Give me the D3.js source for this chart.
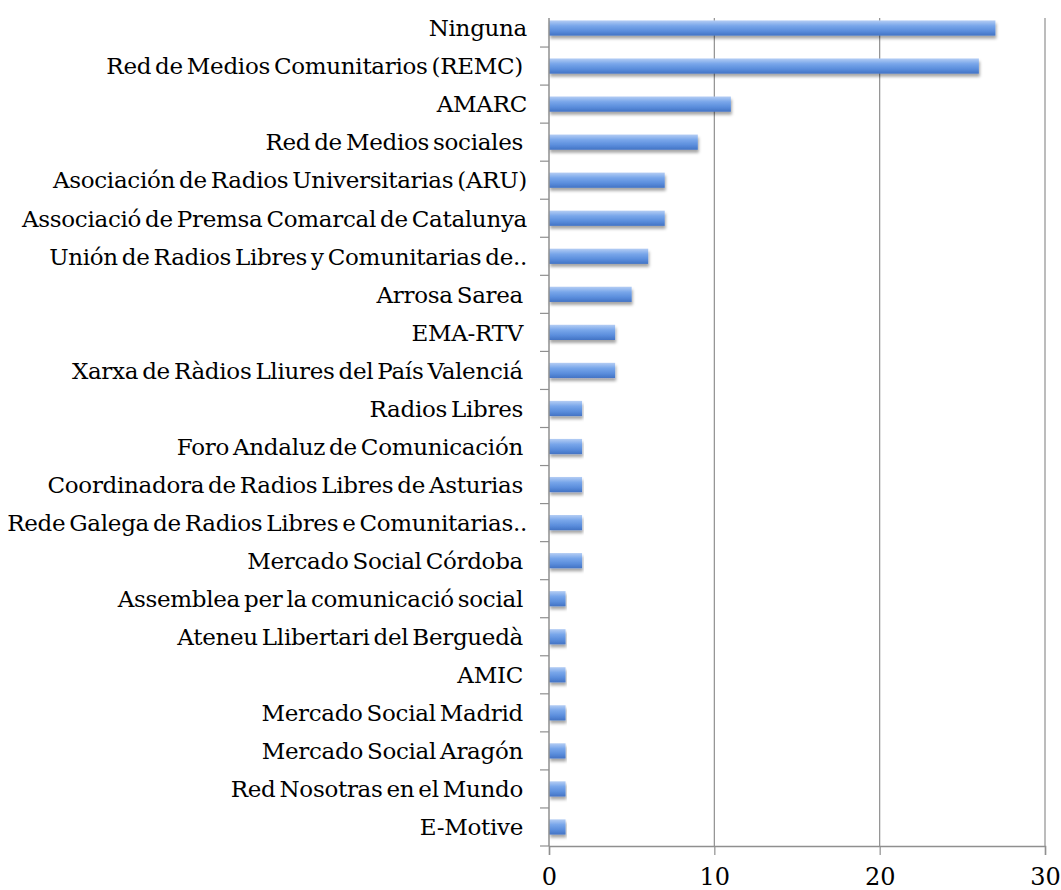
<!DOCTYPE html>
<html>
<head>
<meta charset="utf-8">
<script src="https://cdn.jsdelivr.net/npm/d3@7"></script>
<style>
  body { margin: 0; background: #fff; }
  .cat text { white-space: pre; }
</style>
</head>
<body>
<div id="chart"></div>
<script>
// categories (top to bottom) and their counts
const categories = [
  "Ninguna",
  "Red de Medios Comunitarios (REMC) ",
  "AMARC",
  "Red de Medios sociales ",
  "Asociación de Radios Universitarias (ARU)",
  "Associació de Premsa Comarcal de Catalunya",
  "Unión de Radios Libres y Comunitarias de..",
  "Arrosa Sarea ",
  "EMA-RTV ",
  "Xarxa de Ràdios Lliures del País Valenciá ",
  "Radios Libres ",
  "Foro Andaluz de Comunicación ",
  "Coordinadora de Radios Libres de Asturias ",
  "Rede Galega de Radios Libres e Comunitarias..",
  "Mercado Social Córdoba ",
  "Assemblea per la comunicació social ",
  "Ateneu Llibertari del Berguedà ",
  "AMIC ",
  "Mercado Social Madrid ",
  "Mercado Social Aragón ",
  "Red Nosotras en el Mundo ",
  "E-Motive "
];
const values = [27, 26, 11, 9, 7, 7, 6, 5, 4, 4, 2, 2, 2, 2, 2, 1, 1, 1, 1, 1, 1, 1];
const xTicks = [0, 10, 20, 30];

const width = 1061, height = 890;
const margin = {top: 9, right: 16, bottom: 44, left: 549};
const font = "'DejaVu Serif', serif";

const svg = d3.select("#chart")
  .append("svg")
    .attr("width", width)
    .attr("height", height);

// bar gradient + soft shadow
const defs = svg.append("defs");
const grad = defs.append("linearGradient")
    .attr("id", "barGrad")
    .attr("x1", 0).attr("y1", 0).attr("x2", 0).attr("y2", 1);
grad.append("stop").attr("offset", "0%").attr("stop-color", "#b4cdf4");
grad.append("stop").attr("offset", "35%").attr("stop-color", "#78a6ea");
grad.append("stop").attr("offset", "70%").attr("stop-color", "#5a8ddc");
grad.append("stop").attr("offset", "100%").attr("stop-color", "#4373c4");

const shadow = defs.append("filter")
    .attr("id", "shadow")
    .attr("x", "-5%").attr("y", "-30%")
    .attr("width", "110%").attr("height", "180%");
shadow.append("feDropShadow")
    .attr("dx", 1).attr("dy", 3)
    .attr("stdDeviation", 1.8)
    .attr("flood-color", "#000")
    .attr("flood-opacity", 0.35);

const x = d3.scaleLinear()
    .domain([0, 30])
    .range([margin.left, width - margin.right]);

const y = d3.scaleBand()
    .domain(categories)
    .range([margin.top, height - margin.bottom])
    .paddingInner(0.6)
    .paddingOuter(0.3);

const plotTop = margin.top + 9,
      plotBottom = height - margin.bottom;

// vertical gridlines
svg.append("g")
  .selectAll("line")
  .data(xTicks.filter(d => d > 0))
  .join("line")
    .attr("x1", d => x(d)).attr("x2", d => x(d))
    .attr("y1", plotTop).attr("y2", plotBottom)
    .attr("stroke", "#8f8f8f")
    .attr("stroke-width", 1.2);

// bars
svg.append("g")
  .selectAll("rect")
  .data(categories)
  .join("rect")
    .attr("x", x(0))
    .attr("y", d => y(d))
    .attr("width", (d, i) => x(values[i]) - x(0))
    .attr("height", y.bandwidth())
    .attr("fill", "url(#barGrad)")
    .attr("filter", "url(#shadow)");

// x axis
const xAxis = svg.append("g")
    .attr("transform", `translate(0,${plotBottom})`)
    .call(d3.axisBottom(x).tickValues(xTicks).tickSize(9).tickPadding(13));
xAxis.select(".domain").attr("stroke", "#8f8f8f").attr("stroke-width", 1.5);
xAxis.selectAll(".tick line").attr("stroke", "#8f8f8f").attr("stroke-width", 1.2);
xAxis.selectAll("text")
    .attr("font-family", font)
    .attr("font-size", 24)
    .attr("fill", "#000");

// y axis: line, ticks at band boundaries, labels
const yAxis = svg.append("g").attr("class", "cat");
yAxis.append("line")
    .attr("x1", x(0)).attr("x2", x(0))
    .attr("y1", plotTop).attr("y2", plotBottom)
    .attr("stroke", "#8f8f8f")
    .attr("stroke-width", 1.5);

const step = y.step();
yAxis.selectAll(".bt")
  .data(categories)
  .join("line")
    .attr("class", "bt")
    .attr("x1", x(0) - 9).attr("x2", x(0))
    .attr("y1", d => y(d) + y.bandwidth() / 2 + step / 2)
    .attr("y2", d => y(d) + y.bandwidth() / 2 + step / 2)
    .attr("stroke", "#8f8f8f")
    .attr("stroke-width", 1.2);

yAxis.selectAll("text")
  .data(categories)
  .join("text")
    .attr("x", x(0) - 22)
    .attr("y", d => y(d) + y.bandwidth() / 2)
    .attr("dy", "0.36em")
    .attr("text-anchor", "end")
    .attr("font-family", font)
    .attr("font-size", 23)
    .attr("letter-spacing", -0.3)
    .attr("word-spacing", -3)
    .attr("fill", "#000")
    .text(d => d);
</script>
</body>
</html>
